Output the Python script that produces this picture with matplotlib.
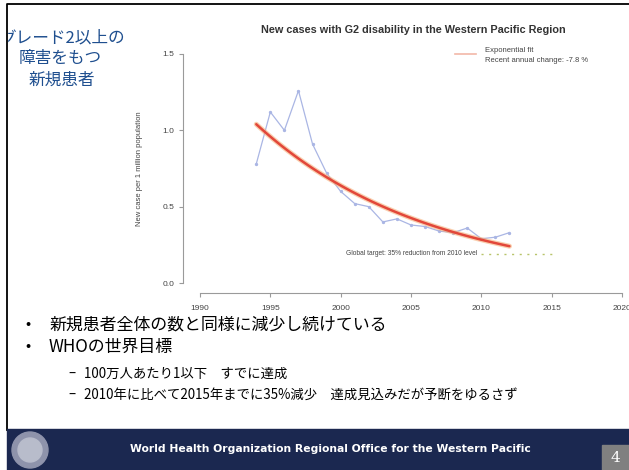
import numpy as np
import matplotlib
matplotlib.use("Agg")
import matplotlib.pyplot as plt
from matplotlib.patches import Rectangle, Circle

plt.rcParams['font.family'] = ['Liberation Sans', 'Noto Sans CJK JP', 'DejaVu Sans']

# data
years = [1994, 1995, 1996, 1997, 1998, 1999, 2000, 2001, 2002, 2003,
         2004, 2005, 2006, 2007, 2008, 2009, 2010, 2011, 2012]
rate = [0.78, 1.12, 1.00, 1.26, 0.91, 0.72, 0.60, 0.52, 0.50, 0.40,
        0.42, 0.38, 0.37, 0.34, 0.33, 0.36, 0.29, 0.30, 0.33]
fit_start = 1.04          # fitted value in 1994
annual_change = -0.078    # recent annual change
target_years = [2010, 2015]
target_value = 0.19
x_ticks = [1990, 1995, 2000, 2005, 2010, 2015, 2020]
y_ticks = [0.0, 0.5, 1.0, 1.5]

W, H = 629, 470
fig = plt.figure(figsize=(W / 100, H / 100), dpi=100)

# slide layer in pixel coords (y downwards)
bg = fig.add_axes([0, 0, 1, 1])
bg.set_xlim(0, W); bg.set_ylim(H, 0); bg.axis('off')

# chart axes: 1990..2020 -> x 200..622 px, 0..1.5 -> y 283..54 px
ax = fig.add_axes([200 / W, 1 - 283 / H, 422 / W, 229 / H])
ax.set_xlim(1990, 2020); ax.set_ylim(0, 1.5)
ax.patch.set_alpha(0)
for s in ['top', 'right']:
    ax.spines[s].set_visible(False)
ax.spines['left'].set_position(('outward', 12))
ax.spines['bottom'].set_position(('outward', 7))
ax.spines['left'].set_bounds(0, 1.5)
ax.spines['bottom'].set_bounds(1990, 2020)
for s in ['left', 'bottom']:
    ax.spines[s].set_color('#9a9a9a'); ax.spines[s].set_linewidth(0.8)
ax.set_xticks(x_ticks); ax.set_yticks(y_ticks)
ax.set_yticklabels(['0.0', '0.5', '1.0', '1.5'])
ax.tick_params(colors='#9a9a9a', labelcolor='#444444', labelsize=6,
               length=3, width=0.8)
ax.tick_params(axis='x', pad=6)
ax.set_ylabel('New case per 1 million population', fontsize=5.5,
              color='#444444', labelpad=14)

ax.plot(years, rate, color='#aab6e4', lw=0.9, marker='o', ms=1.4,
        mec='#aab6e4', mfc='#aab6e4', zorder=2)
fx = np.linspace(years[0], years[-1], 60)
fy = fit_start * (1 + annual_change) ** (fx - years[0])
ax.plot(fx, fy, color='#f6b07a', lw=3.6, alpha=0.6, solid_capstyle='round', zorder=3)
ax.plot(fx, fy, color='#e2473a', lw=1.8, solid_capstyle='round', zorder=4)

ax.plot(target_years, [target_value] * 2, color='#b8c46a', lw=1.0,
        ls=(0, (1.5, 4)), zorder=3)
ax.text(target_years[0] - 0.3, target_value,
        'Global target: 35% reduction from 2010 level', fontsize=4.8,
        color='#444444', ha='right', va='center')

# title and legend
bg.text(413, 30, 'New cases with G2 disability in the Western Pacific Region',
        fontsize=7.8, fontweight='bold', color='#333333', ha='center', va='center')
bg.plot([455, 476], [54, 54], color='#f2b8a8', lw=1.2)
bg.text(485, 51, 'Exponential fit', fontsize=5.5, color='#444444', va='center')
bg.text(485, 61, 'Recent annual change: -7.8 %', fontsize=5.5,
        color='#444444', va='center', clip_on=True)

# japanese heading
jp = ['Noto Sans CJK JP', 'DejaVu Sans']
blue = '#1f4f8f'
bg.text(62, 38, 'グレード2以上の', fontsize=12, color=blue, ha='center',
        va='center', family=jp)
bg.text(60, 59, '障害をもつ', fontsize=12, color=blue, ha='center',
        va='center', family=jp)
bg.text(62, 80, '新規患者', fontsize=12, color=blue, ha='center',
        va='center', family=jp)
bg.add_patch(Rectangle((0, 0), 7, 430, color='white', zorder=5))

# bullets
bg.text(28, 324, '•', fontsize=11, ha='center', va='center', family=jp)
bg.text(49, 324, '新規患者全体の数と同様に減少し続けている', fontsize=12.2,
        va='center', family=jp)
bg.text(28, 347, '•', fontsize=11, ha='center', va='center', family=jp)
bg.text(49, 347, 'WHOの世界目標', fontsize=12.2, va='center', family=jp)
bg.text(72, 374, '–', fontsize=9.6, ha='center', va='center', family=jp)
bg.text(84, 374, '100万人あたり1以下　すでに達成', fontsize=9.6,
        va='center', family=jp)
bg.text(72, 395, '–', fontsize=9.6, ha='center', va='center', family=jp)
bg.text(84, 395, '2010年に比べて2015年までに35%減少　達成見込みだが予断をゆるさず',
        fontsize=9.6, va='center', family=jp)

# slide frame and footer
bg.plot([7, 7, W], [430, 4, 4], color='black', lw=1.3, zorder=6)
bg.add_patch(Rectangle((7, 429), W - 7, H - 429, color='#1b2850', zorder=6))
bg.add_patch(Circle((30, 450), 18, color='#8e93ab', zorder=7))
bg.add_patch(Circle((30, 450), 12, color='#b8bccb', zorder=7))
bg.text(330, 449, 'World Health Organization Regional Office for the Western Pacific',
        fontsize=7.75, fontweight='bold', color='white', ha='center', va='center',
        family='DejaVu Sans', zorder=8)
bg.add_patch(Rectangle((602, 445), W - 602, H - 445, color='#808080', zorder=7))
bg.text(615, 458, '4', fontsize=11, color='white', ha='center', va='center',
        family='DejaVu Serif', zorder=8)

fig.savefig('out.png', dpi=100)
